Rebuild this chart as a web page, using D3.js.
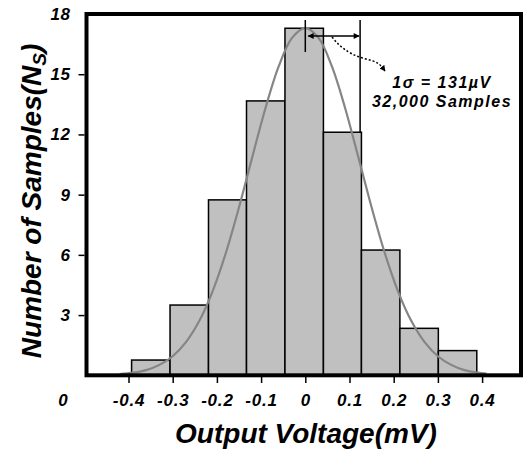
<!DOCTYPE html>
<html>
<head>
<meta charset="utf-8">
<script src="https://cdn.jsdelivr.net/npm/d3@7"></script>
<style>
  body { margin: 0; background: #fff; }
  svg text { font-family: "Liberation Sans", Arial, sans-serif; font-weight: bold; font-style: italic; }
</style>
</head>
<body>
<div id="chart"></div>
<script>
// histogram bins (mV) and heights
const binEdges = [-0.393, -0.306, -0.219, -0.133, -0.046, 0.041, 0.127, 0.214, 0.301, 0.388];
const counts = [0.76, 3.5, 8.74, 13.67, 17.29, 12.11, 6.24, 2.34, 1.23];

// gaussian fit curve
const fitX = [-0.42, -0.39, -0.36, -0.33, -0.30, -0.27, -0.24, -0.21, -0.18, -0.15, -0.12, -0.09, -0.06, -0.03, 0,
              0.03, 0.06, 0.09, 0.12, 0.15, 0.18, 0.21, 0.24, 0.27, 0.30, 0.33, 0.36, 0.39, 0.41];
const fitY = [0.06, 0.13, 0.26, 0.52, 0.95, 1.65, 2.70, 4.17, 6.08, 8.37, 10.87, 13.32, 15.40, 16.81, 17.3,
              16.81, 15.40, 13.32, 10.87, 8.37, 6.08, 4.17, 2.70, 1.65, 0.95, 0.52, 0.26, 0.13, 0.08];

const xTicks = [-0.4, -0.3, -0.2, -0.1, 0, 0.1, 0.2, 0.3, 0.4];
const yTicks = [3, 6, 9, 12, 15, 18];

// sigma marker positions (mV)
const sigmaMark = [0, 0.124];
const noteLines = ["1\u03c3 = 131\u00b5V", "32,000 Samples"];

const width = 526, height = 453;
const margin = {top: 14, right: 5, bottom: 78, left: 86.5};

var x = d3.scaleLinear().domain([-0.495, 0.488]).range([margin.left, width - margin.right]);
var y = d3.scaleLinear().domain([0, 18]).range([375.3, margin.top]);

var svg = d3.select("#chart").append("svg")
    .attr("width", width)
    .attr("height", height);

var defs = svg.append("defs");
defs.append("marker")
    .attr("id", "head")
    .attr("viewBox", "0 0 10 10")
    .attr("refX", 9).attr("refY", 5)
    .attr("markerWidth", 7).attr("markerHeight", 6)
    .attr("markerUnits", "userSpaceOnUse")
    .attr("orient", "auto-start-reverse")
  .append("path")
    .attr("d", "M0,0 L10,5 L0,10 z")
    .attr("fill", "#000");
defs.append("marker")
    .attr("id", "headSmall")
    .attr("viewBox", "0 0 10 10")
    .attr("refX", 9).attr("refY", 5)
    .attr("markerWidth", 6).attr("markerHeight", 6)
    .attr("markerUnits", "userSpaceOnUse")
    .attr("orient", "auto")
  .append("path")
    .attr("d", "M0,0 L10,5 L0,10 z")
    .attr("fill", "#000");

// bars
var bins = counts.map((c, i) => ({x0: binEdges[i], x1: binEdges[i + 1], n: c}));
svg.append("g")
  .selectAll("rect")
  .data(bins)
  .enter()
  .append("rect")
    .attr("x", d => x(d.x0))
    .attr("y", d => y(d.n))
    .attr("width", d => x(d.x1) - x(d.x0))
    .attr("height", d => y(0) - y(d.n))
    .attr("fill", "#c0c0c0")
    .attr("stroke", "#000")
    .attr("stroke-width", 1.5);

// fit curve
var fit = fitX.map((v, i) => [v, fitY[i]]);
svg.append("path")
    .datum(fit)
    .attr("fill", "none")
    .attr("stroke", "#858585")
    .attr("stroke-width", 2.2)
    .attr("d", d3.line().x(d => x(d[0])).y(d => y(d[1])).curve(d3.curveCatmullRom));

// sigma annotation
svg.append("line")
    .attr("x1", x(sigmaMark[0])).attr("x2", x(sigmaMark[0]))
    .attr("y1", 20).attr("y2", 52)
    .attr("stroke", "#000").attr("stroke-width", 1.5);
svg.append("line")
    .attr("x1", x(sigmaMark[1])).attr("x2", x(sigmaMark[1]))
    .attr("y1", 20).attr("y2", y(counts[5]))
    .attr("stroke", "#000").attr("stroke-width", 1.5);
svg.append("line")
    .attr("x1", x(sigmaMark[0]) + 3).attr("x2", x(sigmaMark[1]) - 1)
    .attr("y1", 36).attr("y2", 36)
    .attr("stroke", "#000").attr("stroke-width", 1.5)
    .attr("marker-start", "url(#head)")
    .attr("marker-end", "url(#head)");
svg.append("path")
    .attr("d", "M332,37 C342,50 354,56 366,59 S380,64 385,71")
    .attr("fill", "none")
    .attr("stroke", "#000").attr("stroke-width", 1.5)
    .attr("stroke-dasharray", "2,2")
    .attr("marker-end", "url(#headSmall)");

svg.append("g")
  .selectAll("text")
  .data(noteLines)
  .enter()
  .append("text")
    .attr("x", 442)
    .attr("y", (d, i) => 88 + i * 18.5)
    .attr("text-anchor", "middle")
    .style("font-size", "16px")
    .style("letter-spacing", "1.5px")
    .text(d => d);

// frame
svg.append("rect")
    .attr("x", margin.left).attr("y", margin.top)
    .attr("width", width - margin.right - margin.left)
    .attr("height", 375.3 - margin.top)
    .attr("fill", "none")
    .attr("stroke", "#000")
    .attr("stroke-width", 4);

// x axis
var xAxis = svg.append("g")
    .attr("transform", "translate(0,377)")
    .call(d3.axisBottom(x).tickValues(xTicks).tickSize(6).tickSizeOuter(0)
      .tickFormat(d => d === 0 ? "0" : String(d)));
xAxis.select(".domain").remove();
xAxis.selectAll("line").attr("stroke-width", 1.5);
xAxis.selectAll("text")
    .attr("dy", null).attr("y", 29)
    .attr("fill", "#000")
    .style("font-size", "17px")
    .style("letter-spacing", "0.8px");

// y axis
var yAxis = svg.append("g")
    .attr("transform", "translate(84.5,0)")
    .call(d3.axisLeft(y).tickValues(yTicks).tickSize(6).tickSizeOuter(0).tickPadding(8));
yAxis.select(".domain").remove();
yAxis.selectAll("line").attr("stroke-width", 1.5);
yAxis.selectAll(".tick").filter(d => d === 18).select("line").remove();
yAxis.selectAll("text")
    .attr("fill", "#000")
    .style("font-size", "17px")
    .style("letter-spacing", "0.5px");

svg.append("text")
    .attr("x", 63).attr("y", 406)
    .attr("text-anchor", "middle")
    .style("font-size", "17px")
    .text("0");

// axis titles
svg.append("text")
    .attr("x", 306).attr("y", 443)
    .attr("text-anchor", "middle")
    .style("font-size", "28px")
    .text("Output Voltage(mV)");

var yTitle = svg.append("text")
    .attr("transform", "translate(41,201) rotate(-90)")
    .attr("text-anchor", "middle")
    .style("font-size", "28px");
yTitle.append("tspan").text("Number of Samples(N");
yTitle.append("tspan").style("font-size", "19px").attr("dy", 5).text("S");
yTitle.append("tspan").attr("dy", -5).text(")");
</script>
</body>
</html>
